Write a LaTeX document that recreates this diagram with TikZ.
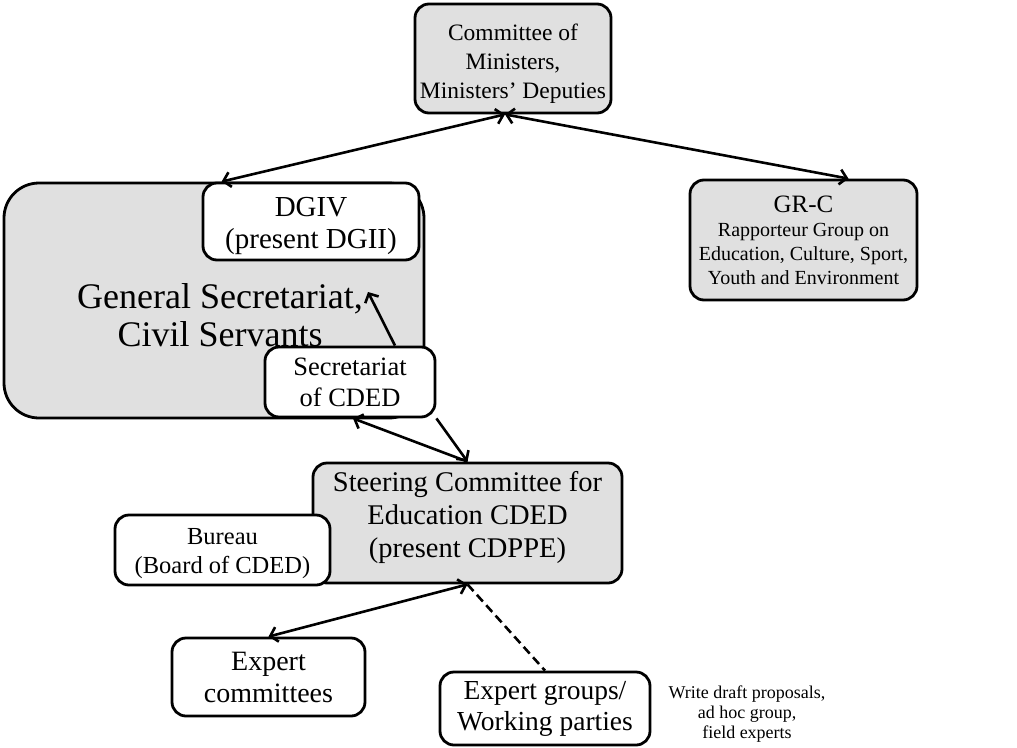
\documentclass[tikz,border=0pt]{standalone}
\usepackage{fontspec}
\setmainfont{Liberation Serif}
\usetikzlibrary{arrows.meta}
\definecolor{boxgray}{RGB}{224,224,224}
\newcommand{\fsz}[2]{\fontsize{#1}{#2}\selectfont}

\begin{document}
\begin{tikzpicture}[x=1pt, y=-1pt, >={Straight Barb[length=7pt,width=15pt]}]
	\tikzstyle{box}   = [rectangle, rounded corners=14pt, draw=black, line width=2.8pt, fill=boxgray, align=center, inner sep=0pt]
	\tikzstyle{plain} = [box, fill=white]
	\tikzstyle{link}  = [line width=2.6pt]

	\useasboundingbox (0,0) rectangle (1017,747);

	% top of the tree
	\node[box, minimum width=196pt, minimum height=109pt] (com) at (513,58.5) {};
	\node[font=\fsz{23.5}{29}, align=center] (comtext) at ([yshift=-5pt]com.center) {Committee of\\Ministers,\\Ministers’ Deputies};
	\node[box, minimum width=227pt, minimum height=120pt, font=\fsz{20}{24}] (grc) at (803.5,240) {{\fsz{25}{27}GR-C}\\Rapporteur Group on\\Education, Culture, Sport,\\Youth and Environment};

	% secretariat block
	\node[box, rounded corners=35pt, minimum width=420pt, minimum height=235pt] (gs) at (214,300.5) {};
	\node[font=\fsz{36}{38}, align=center] (gstext) at (220,315) {General Secretariat,\\Civil Servants};
	\node[plain, minimum width=216pt, minimum height=77pt] (dgiv) at (311,221.5) {};
	\node[font=\fsz{29}{32}, align=center] (dgivtext) at ([yshift=-4pt]dgiv.center) {DGIV\\(present DGII)};
	\node[plain, minimum width=170pt, minimum height=70pt, font=\fsz{26.5}{31}] (sec) at (350,382) {Secretariat\\of CDED};
	\coordinate (gscomma) at (368,292);

	% steering committee and below
	\node[box, minimum width=309pt, minimum height=120pt] (steer) at (467.5,523) {};
	\node[font=\fsz{28.5}{33}, align=center] (steertext) at ([yshift=6pt]steer.center) {Steering Committee for\\Education CDED\\(present CDPPE)};
	\node[plain, minimum width=215pt, minimum height=70pt] (bureau) at (222.5,550) {};
	\node[font=\fsz{24.5}{29}, align=center] (bureautext) at ([yshift=-4pt]bureau.center) {Bureau\\(Board of CDED)};
	\node[plain, minimum width=193pt, minimum height=78pt, font=\fsz{28}{32}] (expcom) at (268.5,677) {Expert\\committees};
	\node[plain, minimum width=210pt, minimum height=73pt, font=\fsz{27.5}{31}] (expgrp) at (545,708.5) {Expert groups/\\Working parties};
	\node[font=\fsz{18}{20}, align=center] (note) at (747,714) {Write draft proposals,\\ad hoc group,\\field experts};

	\draw[link, <->] ([xshift=20pt]dgiv.north west) -- ([xshift=-8pt]com.south);
	\draw[link, <->] ([xshift=-8pt]com.south) -- ([xshift=45pt]grc.north);
	\draw[link, ->] ([xshift=45pt]sec.north) -- (gscomma);
	\draw[link, ->] (steer.north) -- ([xshift=3pt]sec.south);
	\draw[link, ->] (sec.south east) -- (steer.north);
	\draw[link, <->] (expcom.north) -- (steer.south);
	\draw[link, dash pattern=on 9pt off 5pt] (steer.south) -- (expgrp.north);

\end{tikzpicture}
\end{document}
